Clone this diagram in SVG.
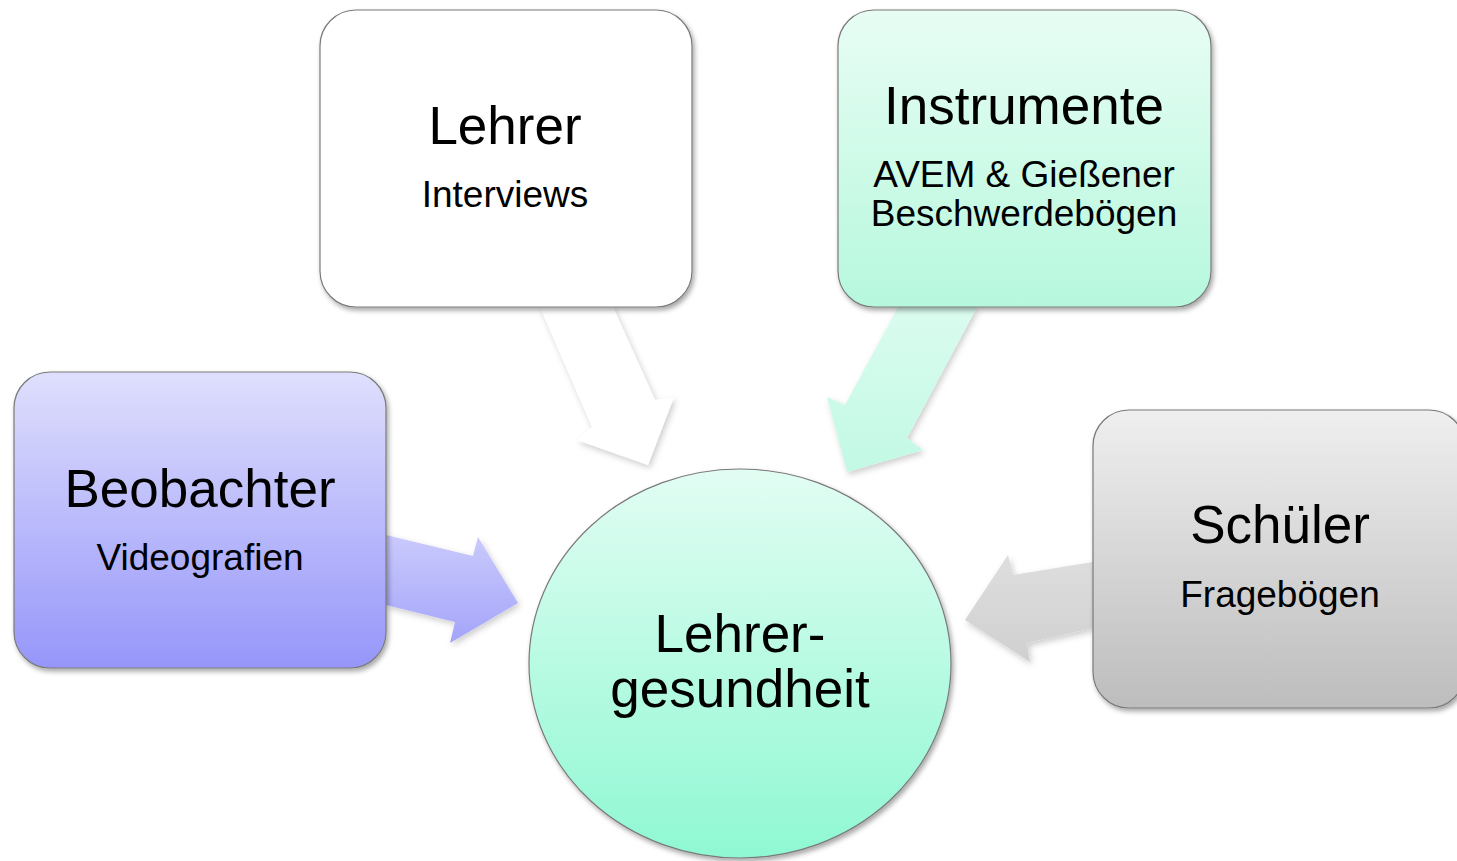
<svg xmlns="http://www.w3.org/2000/svg" width="1457" height="861" viewBox="0 0 1457 861">
<defs>
<linearGradient id="gBlue" x1="0" y1="0" x2="0" y2="1"><stop offset="0" stop-color="#dfdffd"/><stop offset="1" stop-color="#9696fa"/></linearGradient>
<linearGradient id="gMint" x1="0" y1="0" x2="0" y2="1"><stop offset="0" stop-color="#e8fdf4"/><stop offset="1" stop-color="#b6f8dd"/></linearGradient>
<linearGradient id="gGray" x1="0" y1="0" x2="0" y2="1"><stop offset="0" stop-color="#efefef"/><stop offset="1" stop-color="#bdbdbd"/></linearGradient>
<linearGradient id="gCircle" x1="0" y1="0" x2="0" y2="1"><stop offset="0" stop-color="#e2fdf3"/><stop offset="1" stop-color="#8ff8d3"/></linearGradient>
<linearGradient id="gArrBlue" x1="0" y1="0" x2="0" y2="1"><stop offset="0" stop-color="#cacafd"/><stop offset="1" stop-color="#a4a4fa"/></linearGradient>
<linearGradient id="gArrMint" x1="0" y1="0" x2="0" y2="1"><stop offset="0" stop-color="#dafcef"/><stop offset="1" stop-color="#c2f9e4"/></linearGradient>
<linearGradient id="gArrGray" x1="0" y1="0" x2="0" y2="1"><stop offset="0" stop-color="#dedede"/><stop offset="1" stop-color="#d0d0d0"/></linearGradient>
<filter id="sh" x="-10%" y="-10%" width="125%" height="125%"><feDropShadow dx="2" dy="3" stdDeviation="2.5" flood-color="#000" flood-opacity="0.35"/></filter>
<filter id="ash" x="-20%" y="-20%" width="140%" height="140%"><feDropShadow dx="2" dy="3" stdDeviation="3" flood-color="#000" flood-opacity="0.2"/></filter>
</defs>
<style>
.box{stroke:#7a7a7a;stroke-width:1.2;filter:url(#sh)}
.t{font-family:"Liberation Sans",Arial,sans-serif;fill:#000;text-anchor:middle}
.big{font-size:53px}
.small{font-size:37px}
.arr{filter:url(#ash)}
</style>
<g id="connectors">
<polygon class="arr" fill="#ffffff" points="540,307 592,427 577,440 648,465 674,397 655,400 613,307"/>
<polygon class="arr" fill="url(#gArrMint)" points="898,307 845,405 827,397 847,472 923,450 907,438 977,307"/>
<polygon class="arr" fill="url(#gArrBlue)" points="386,535 473,556 478,537 518,603 450,643 455,622 386,605"/>
<polygon class="arr" fill="url(#gArrGray)" points="1093,562 1013,575 1008,555 965,620 1030,662 1027,643 1093,628"/>
</g>
<g id="node-lehrer">
<rect class="box" x="320" y="10" width="372" height="297" rx="36" fill="#ffffff"/>
<text class="t big" x="505" y="144">Lehrer</text>
<text class="t small" x="505" y="207">Interviews</text>
</g>
<g id="node-instrumente">
<rect class="box" x="838" y="10" width="373" height="297" rx="36" fill="url(#gMint)"/>
<text class="t big" x="1024" y="124">Instrumente</text>
<text class="t small" x="1024" y="187">AVEM &amp; Gießener</text>
<text class="t small" x="1024" y="226">Beschwerdebögen</text>
</g>
<g id="node-beobachter">
<rect class="box" x="14" y="372" width="372" height="296" rx="36" fill="url(#gBlue)"/>
<text class="t big" x="200" y="507">Beobachter</text>
<text class="t small" x="200" y="570">Videografien</text>
</g>
<g id="node-schueler">
<rect class="box" x="1093" y="410" width="372" height="298" rx="36" fill="url(#gGray)"/>
<text class="t big" x="1280" y="543">Schüler</text>
<text class="t small" x="1280" y="607">Fragebögen</text>
</g>
<g id="node-center">
<ellipse class="box" cx="740" cy="663.5" rx="211" ry="194.5" fill="url(#gCircle)" stroke="#555"/>
<text class="t big" x="740" y="652">Lehrer-</text>
<text class="t big" x="740" y="707">gesundheit</text>
</g>
</svg>
